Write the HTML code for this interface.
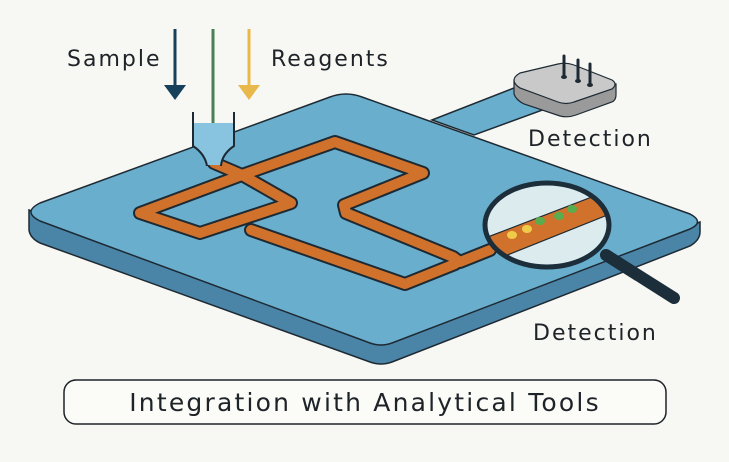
<!DOCTYPE html>
<html><head><style>
html,body{margin:0;padding:0;background:#f7f7f3;}
svg{display:block}
text{font-family:"DejaVu Sans","Liberation Sans",sans-serif;fill:#1e2328}
</style></head><body>
<svg width="729" height="462" viewBox="0 0 729 462" xmlns="http://www.w3.org/2000/svg">
<rect width="729" height="462" fill="#f7f7f3"/>
<polygon points="432,120 514,88 548,108 474,135" fill="#6aaecd" stroke="#1e2a33" stroke-width="1.5"/>
<path d="M29,210 L29,230 Q30,238 40,243 L370,362 Q381,366 392,362 L690,246 Q700,240 700,232 L700,222 L381,345 Z" fill="#4a85a8" stroke="#1e2a33" stroke-width="1.5"/>
<path d="M40,203 L330,97 Q346,91 362,97 L690,214 Q705,222 690,229 L392,343 Q381,347 370,343 L40,221 Q22,212 40,203 Z" fill="#6aaecd" stroke="#1e2a33" stroke-width="1.5"/>
<path d="M514,80 L514,94 Q516,100 524,104 L560,116 Q568,118 576,115 L612,102 Q616,100 616,95 L616,84 Z" fill="#9a9a9a" stroke="#1e2a33" stroke-width="1.2"/>
<path d="M520,73 L558,64 Q566,62 574,65 L612,80 Q618,84 612,89 L574,102 Q566,105 558,102 L520,88 Q508,80 520,73 Z" fill="#c9c9c9" stroke="#1e2a33" stroke-width="1.2"/>
<g stroke="#1e2a33" stroke-width="3" stroke-linecap="round">
<line x1="564" y1="56" x2="564" y2="76"/><line x1="578" y1="60" x2="578" y2="80"/><line x1="590" y1="64" x2="590" y2="84"/></g>
<g fill="#1e2a33"><ellipse cx="564" cy="77" rx="3" ry="2"/><ellipse cx="578" cy="81" rx="3" ry="2"/><ellipse cx="590" cy="85" rx="3" ry="2"/></g>
<g fill="none" stroke-linejoin="round" stroke-linecap="round">
<path d="M214,163 L242,175 L335,142 L423,173 L344,205 L346,213 L453,257 L460,262 L490,250 M242,175 L140,213 L200,233 L291,203 L242,175 M251,230 L405,284 L455,264" stroke="#1e2a33" stroke-width="14"/>
<path d="M214,163 L242,175 L335,142 L423,173 L344,205 L346,213 L453,257 L460,262 L490,250 M242,175 L140,213 L200,233 L291,203 L242,175 M251,230 L405,284 L455,264" stroke="#d0722b" stroke-width="10"/>
</g>
<path d="M194,123 L194,147 Q205,155 207,165 L221,165 Q223,155 233,147 L233,123 Z" fill="#88c4e0"/>
<path d="M193,112 L193,146 Q205,154 207,166 M234,112 L234,146 Q222,154 221,166" fill="none" stroke="#1e2a33" stroke-width="2"/>
<line x1="213" y1="29" x2="213" y2="123" stroke="#4a7f55" stroke-width="3"/>
<line x1="175" y1="29" x2="175" y2="88" stroke="#17405a" stroke-width="3"/>
<polygon points="164,85 186,85 175,100" fill="#17405a"/>
<line x1="249" y1="29" x2="249" y2="88" stroke="#e8b94a" stroke-width="3"/>
<polygon points="238,85 260,85 249,100" fill="#e8b94a"/>
<line x1="606" y1="255" x2="674" y2="298" stroke="#1b2e3a" stroke-width="12" stroke-linecap="round"/>
<ellipse cx="547" cy="225" rx="62" ry="42" fill="#dcebee"/>
<clipPath id="cp"><ellipse cx="547" cy="225" rx="62" ry="42"/></clipPath>
<g clip-path="url(#cp)">
<polygon points="480,240 610,190 620,210 490,262" fill="#d0722b"/>
<line x1="480" y1="240" x2="610" y2="190" stroke="#1e2a33" stroke-width="1.2"/>
<line x1="490" y1="262" x2="620" y2="210" stroke="#1e2a33" stroke-width="1.2"/>
<ellipse cx="512" cy="235" rx="5" ry="4" fill="#f0cb4a"/>
<ellipse cx="527" cy="229" rx="5" ry="4" fill="#f0cb4a"/>
<ellipse cx="540" cy="221" rx="5" ry="4" fill="#5aad4e"/>
<ellipse cx="559" cy="216" rx="5" ry="4" fill="#5aad4e"/>
<ellipse cx="572" cy="209" rx="5" ry="4" fill="#5aad4e"/>
</g>
<ellipse cx="547" cy="225" rx="62" ry="42" fill="none" stroke="#1b2e3a" stroke-width="5"/>
<text x="67" y="66" font-size="22" letter-spacing="2">Sample</text>
<text x="271" y="66" font-size="22" letter-spacing="2">Reagents</text>
<text x="528" y="146" font-size="22" letter-spacing="2">Detection</text>
<text x="533" y="340" font-size="22" letter-spacing="2">Detection</text>
<rect x="64" y="380" width="602" height="44" rx="12" fill="#fbfbf8" stroke="#1e2328" stroke-width="1.5"/>
<text x="365" y="411" font-size="25" letter-spacing="2.2" text-anchor="middle">Integration with Analytical Tools</text>
</svg>
</body></html>
